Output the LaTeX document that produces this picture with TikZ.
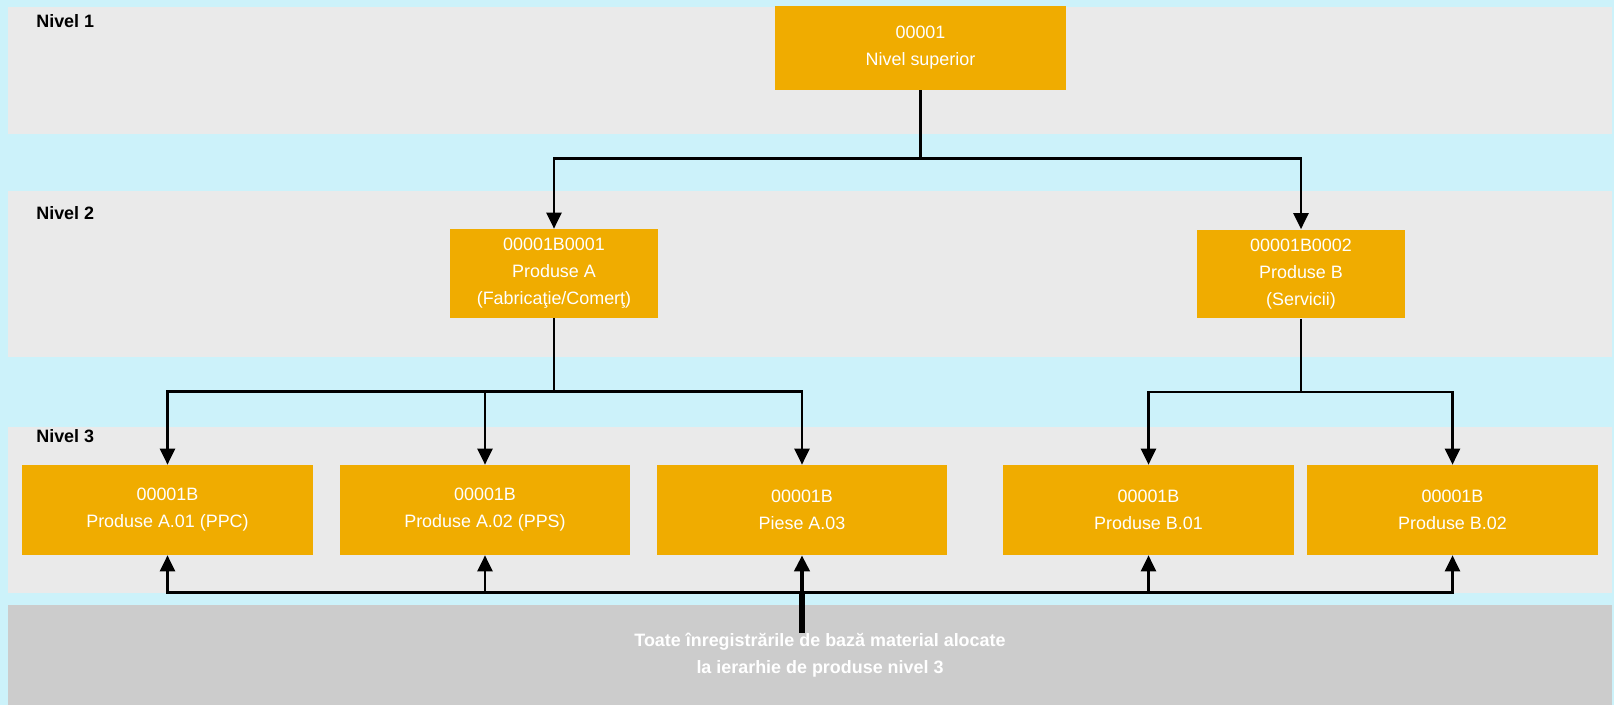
\documentclass[tikz,border=0pt]{standalone}
\usepackage{fontspec}
\setmainfont{Liberation Sans}
\usetikzlibrary{arrows.meta}
\definecolor{bgcyan}{RGB}{204,242,250}
\definecolor{bandgrey}{RGB}{234,234,234}
\definecolor{notegrey}{RGB}{204,204,204}
\definecolor{boxorange}{RGB}{240,172,0}
\newcommand{\txtsize}{\fontsize{10.2}{15.3}\selectfont}

\begin{document}
\begin{tikzpicture}[x=0.02cm, y=-0.02cm,
    level/.style={anchor=base west, inner sep=0, font=\txtsize\bfseries},
    topbox/.style={fill=boxorange, text=white, inner sep=0, align=center, font=\txtsize,
      minimum width=5.82cm, minimum height=1.68cm},
    midbox/.style={topbox, minimum width=4.16cm, minimum height=1.78cm},
    lowbox/.style={topbox, minimum height=1.8cm},
    link/.style={line width=1.4pt},
    arr/.style={link, -{Triangle[width=0.3cm, length=0.32cm]}}]

      \fill[bgcyan] (0, 0) rectangle (1614, 705);
      \fill[bandgrey] (8, 7) rectangle (1612, 134);
      \fill[bandgrey] (8, 191) rectangle (1612, 357);
      \fill[bandgrey] (8, 427) rectangle (1612, 593);
      \fill[notegrey] (8, 605) rectangle (1612, 705);

      \node[level] (lvl1) at (36, 28) {Nivel 1};
      \node[level] (lvl2) at (36, 220) {Nivel 2};
      \node[level] (lvl3) at (36, 443) {Nivel 3};

      \node[topbox] (top) at (920.5, 48) {00001\\Nivel superior};

      \node[midbox] (prodA) at (554, 273.5) {00001B0001\\Produse A\\(Fabricaţie/Comerţ)};
      \node[midbox] (prodB) at (1301, 274) {00001B0002\\Produse B\\(Servicii)};

      \node[lowbox] (a01) at (167.5, 510) {00001B\\Produse A.01 (PPC)};
      \node[lowbox] (a02) at (485, 510) {00001B\\Produse A.02 (PPS)};
      \node[lowbox] (a03) at (802, 510) {00001B\\Piese A.03};
      \node[lowbox] (b01) at (1148.5, 510) {00001B\\Produse B.01};
      \node[lowbox] (b02) at (1452.5, 510) {00001B\\Produse B.02};

      \node[font=\txtsize\bfseries, text=white, align=center, inner sep=0] (note) at (820, 655)
        {Toate înregistrările de bază material alocate\\la ierarhie de produse nivel 3};

      \draw[link] (top.south) -- ++(0, 68) coordinate (j0);
      \draw[arr] (j0) -| (prodA.north);
      \draw[arr] (j0) -| (prodB.north);

      \draw[link] (prodA.south) -- ++(0, 73) coordinate (jA);
      \draw[arr] (jA) -| (a01.north);
      \draw[arr] (jA) -| (a02.north);
      \draw[arr] (jA) -| (a03.north);

      \draw[link] (prodB.south) -- ++(0, 73) coordinate (jB);
      \draw[arr] (jB) -| (b01.north);
      \draw[arr] (jB) -| (b02.north);

      \draw[line width=3.2pt] (a03.south |- note.north) -- ++(0, -40) coordinate (jN);
      \draw[arr, line width=2.4pt] (jN) -- (a03.south);
      \draw[arr] (jN) -| (a01.south);
      \draw[arr] (jN) -| (a02.south);
      \draw[arr] (jN) -| (b01.south);
      \draw[arr] (jN) -| (b02.south);
    \end{tikzpicture}
\end{document}
